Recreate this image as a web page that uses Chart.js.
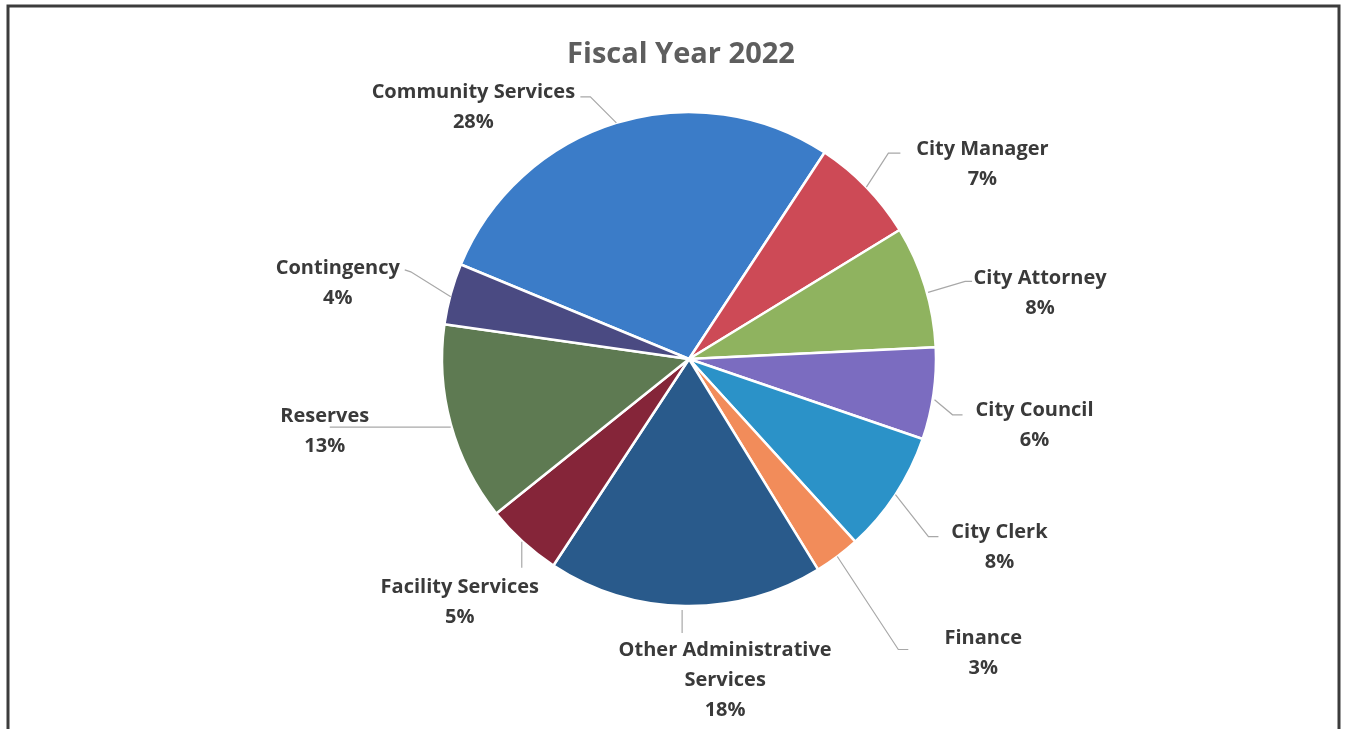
<!DOCTYPE html>
<html>
<head>
<meta charset="utf-8">
<title>Fiscal Year 2022</title>
<script src="https://cdn.jsdelivr.net/npm/chart.js@4.4.1/dist/chart.umd.min.js"></script>
<style>
  html, body { margin: 0; padding: 0; background: #ffffff; }
  canvas { display: block; }
</style>
</head>
<body>
<canvas id="budget" width="1348" height="729"></canvas>
<script>
// ---- data ----
const chartTitle = 'Fiscal Year 2022';
const departments = [
  'Community Services', 'City Manager', 'City Attorney', 'City Council', 'City Clerk',
  'Finance', 'Other Administrative Services', 'Facility Services', 'Reserves', 'Contingency'
];
// how each department name is broken over lines in its callout
const departmentLines = [
  ['Community Services'], ['City Manager'], ['City Attorney'], ['City Council'], ['City Clerk'],
  ['Finance'], ['Other Administrative', 'Services'], ['Facility Services'], ['Reserves'], ['Contingency']
];
const sharePercent = [28, 7, 8, 6, 8, 3, 18, 5, 13, 4];

// ---- styles ----
const sliceColors = [
  '#3b7cc8', '#cd4a56', '#8fb35f', '#7b6cc0', '#2b92c8',
  '#f28c5a', '#295a8b', '#852539', '#5e7a52', '#4a4a82'
];

// callout placement: text offset and leader path, relative to the
// outer midpoint of each slice
const callouts = [
  { tx: -143, ty: -32, path: [[0, 0], [-26, -26], [-36, -26]] },
  { tx: 116, ty: -39, path: [[0, 0], [22, -34], [34, -34]] },
  { tx: 115, ty: -9, path: [[3, 6], [40, -5], [47, -5]] },
  { tx: 101, ty: 15, path: [[1, 6], [19, 21], [29, 21]] },
  { tx: 104, ty: 36, path: [[0, 0], [33, 42], [43, 42]] },
  { tx: 146, ty: 80, path: [[0, 0], [61, 93], [71, 93]] },
  { tx: 40, ty: 43, path: [[-3, 4], [-3, 27]] },
  { tx: -63, ty: 44, path: [[-1, 0], [-1, 26]] },
  { tx: -126, ty: -9, path: [[0, 3], [-121, 3]] },
  { tx: -113, ty: -27, path: [[0, 3], [-40, -22], [-46, -24]] }
];

const labelFont = 'bold 20px "Open Sans", "DejaVu Sans", sans-serif';
const titleFont = 'bold 29px "Open Sans", "DejaVu Sans", sans-serif';
const labelColor = '#3a3a3a';
const titleColor = '#5e5e5e';
const leaderColor = '#a8a8a8';
const lineGap = 30;

// title, frame and callouts drawn over the finished pie
const decorations = {
  id: 'decorations',
  afterDraw(chart) {
    const ctx = chart.ctx;
    const W = chart.width;
    const H = chart.height;
    ctx.save();

    // outer frame (open at the bottom)
    ctx.strokeStyle = '#3c3c3c';
    ctx.lineWidth = 3;
    ctx.beginPath();
    ctx.moveTo(8, H + 5);
    ctx.lineTo(8, 6);
    ctx.lineTo(W - 9, 6);
    ctx.lineTo(W - 9, H + 5);
    ctx.stroke();

    // title
    ctx.fillStyle = titleColor;
    ctx.font = titleFont;
    ctx.textAlign = 'center';
    ctx.textBaseline = 'alphabetic';
    ctx.fillText(chartTitle, 681, 63);

    // callouts
    const arcs = chart.getDatasetMeta(0).data;
    arcs.forEach((arc, i) => {
      const p = arc.getProps(['x', 'y', 'startAngle', 'endAngle', 'outerRadius'], true);
      const mid = (p.startAngle + p.endAngle) / 2;
      const ax = p.x + Math.cos(mid) * p.outerRadius;
      const ay = p.y + Math.sin(mid) * p.outerRadius;
      const c = callouts[i];

      ctx.strokeStyle = leaderColor;
      ctx.lineWidth = 1.2;
      ctx.beginPath();
      c.path.forEach(([dx, dy], k) => {
        if (k === 0) ctx.moveTo(ax + dx, ay + dy);
        else ctx.lineTo(ax + dx, ay + dy);
      });
      ctx.stroke();

      const lines = departmentLines[i].concat([chart.data.datasets[0].data[i] + '%']);
      ctx.fillStyle = labelColor;
      ctx.font = labelFont;
      ctx.textAlign = 'center';
      ctx.textBaseline = 'alphabetic';
      lines.forEach((t, k) => {
        ctx.fillText(t, ax + c.tx, ay + c.ty + 7 + k * lineGap);
      });
    });

    ctx.restore();
  }
};

new Chart(document.getElementById('budget'), {
  type: 'pie',
  data: {
    labels: departments,
    datasets: [{
      data: sharePercent,
      backgroundColor: sliceColors,
      borderColor: '#ffffff',
      borderWidth: 2.5
    }]
  },
  options: {
    responsive: false,
    animation: false,
    rotation: -67.5,
    radius: 247,
    layout: { padding: { left: 442, right: 412, top: 112, bottom: 123 } },
    plugins: {
      legend: { display: false },
      tooltip: { enabled: false },
      title: { display: false }
    },
    events: []
  },
  plugins: [decorations]
});
</script>
</body>
</html>
